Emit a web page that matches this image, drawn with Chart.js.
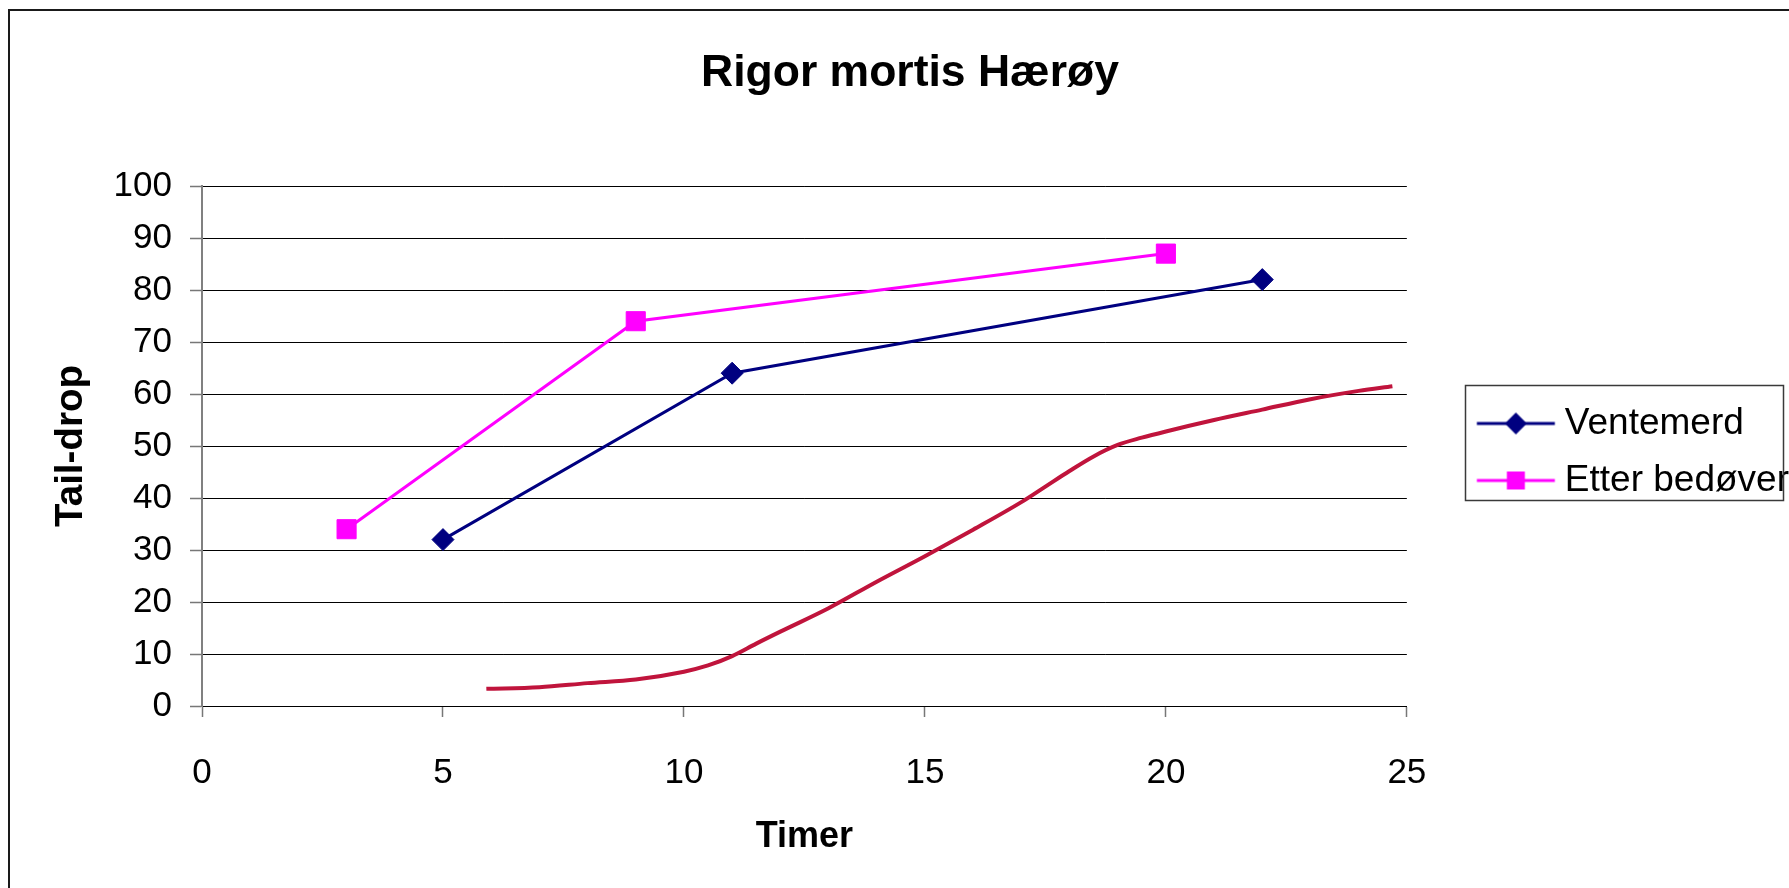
<!DOCTYPE html>
<html>
<head>
<meta charset="utf-8">
<script src="https://cdn.jsdelivr.net/npm/chart.js@4.4.1/dist/chart.umd.min.js"></script>
<style>
  html, body { margin: 0; padding: 0; background: #fff; overflow: hidden; width: 1789px; height: 888px; }
  #frame { position: absolute; left: 8px; top: 9px; width: 2000px; height: 1000px;
           border-left: 2px solid #1a1a1a; border-top: 2px solid #1a1a1a; }
  #c { position: absolute; left: 0; top: 0; }
</style>
</head>
<body>
<div id="frame"></div>
<canvas id="c" width="1820" height="888"></canvas>
<script>
// Measured series (hours after slaughter, tail-drop %)
const ventemerdHours = [5, 11, 22];
const ventemerdValues = [32, 64, 82];
const etterHours = [3, 9, 20];
const etterValues = [34, 74, 87];

// Smooth reference curve
const curveHours  = [5.9, 7, 8, 9, 10, 10.5, 11, 11.5, 12, 13, 14, 15, 16, 17, 17.5, 18, 18.5, 19, 19.5, 20, 21, 22, 23, 24, 24.7];
const curveValues = [3.3, 3.6, 4.4, 5.1, 6.6, 7.8, 9.6, 12.0, 14.3, 18.8, 23.9, 28.8, 33.9, 39.2, 42.2, 45.2, 48.0, 50.2, 51.6, 52.8, 55.0, 57.0, 59.0, 60.6, 61.5];

const xTickValues = [0, 5, 10, 15, 20, 25];
const yTickValues = [0, 10, 20, 30, 40, 50, 60, 70, 80, 90, 100];

const seriesLabels = ['Ventemerd', 'Etter bedøver'];
const NAVY = '#000080';
const MAGENTA = '#FF00FF';
const CRIMSON = '#C0143C';
const FONT = "'Liberation Sans', Arial, sans-serif";

const toPoints = (xs, ys) => xs.map((x, i) => ({ x: x, y: ys[i] }));

// Legend swatch: short line with the series marker in the middle
const SWATCH_W = 150, SWATCH_H = 30, MARK_SHIFT = 29.25;
function legendSwatch(color, shape) {
  const c = document.createElement('canvas');
  c.width = SWATCH_W; c.height = SWATCH_H;
  const g = c.getContext('2d');
  const cx = SWATCH_W / 2 + MARK_SHIFT, cy = SWATCH_H / 2;
  g.strokeStyle = color; g.lineWidth = 3;
  g.beginPath(); g.moveTo(cx - 39, cy); g.lineTo(cx + 39, cy); g.stroke();
  g.fillStyle = color;
  g.beginPath();
  if (shape === 'diamond') {
    const r = 11;
    g.moveTo(cx - r, cy); g.lineTo(cx, cy - r); g.lineTo(cx + r, cy); g.lineTo(cx, cy + r);
    g.closePath();
  } else {
    const h = 9;
    g.rect(cx - h, cy - h, 2 * h, 2 * h);
  }
  g.fill();
  return c;
}
const swatches = [legendSwatch(NAVY, 'diamond'), legendSwatch(MAGENTA, 'square')];

// Frame around the legend entries
const legendFrame = {
  id: 'legendFrame',
  afterDraw(chart) {
    const lg = chart.legend;
    if (!lg || !lg.legendHitBoxes || lg.legendHitBoxes.length < 2) return;
    const a = lg.legendHitBoxes[0], b = lg.legendHitBoxes[lg.legendHitBoxes.length - 1];
    const left = a.left + 38;
    const right = Math.max(a.left + a.width, b.left + b.width) - 6;
    const top = a.top - 20;
    const bottom = b.top + b.height + 1;
    const ctx = chart.ctx;
    ctx.save();
    ctx.strokeStyle = '#3a3a3a';
    ctx.lineWidth = 1.5;
    ctx.strokeRect(Math.round(left) + 0.5, Math.round(top) + 0.5, Math.round(right - left), Math.round(bottom - top));
    ctx.restore();
  }
};

new Chart(document.getElementById('c'), {
  type: 'line',
  data: {
    datasets: [
      {
        label: seriesLabels[0],
        data: toPoints(ventemerdHours, ventemerdValues),
        borderColor: NAVY, backgroundColor: NAVY,
        borderWidth: 3,
        pointStyle: 'rectRot', pointRadius: 11, pointBorderWidth: 1,
        pointBackgroundColor: NAVY, pointBorderColor: NAVY,
        tension: 0
      },
      {
        label: seriesLabels[1],
        data: toPoints(etterHours, etterValues),
        borderColor: MAGENTA, backgroundColor: MAGENTA,
        borderWidth: 3,
        pointStyle: 'rect', pointRadius: 13.5, pointBorderWidth: 1,
        pointBackgroundColor: MAGENTA, pointBorderColor: MAGENTA,
        tension: 0
      },
      {
        label: 'Kurve',
        data: toPoints(curveHours, curveValues),
        borderColor: CRIMSON,
        borderWidth: 4,
        pointRadius: 0,
        cubicInterpolationMode: 'monotone'
      }
    ]
  },
  options: {
    responsive: false,
    animation: false,
    events: [],
    devicePixelRatio: 1,
    layout: { padding: { left: 21, right: 21, top: 0, bottom: 0 } },
    plugins: {
      tooltip: { enabled: false },
      title: {
        display: true,
        text: 'Rigor mortis Hærøy',
        color: '#000',
        font: { family: FONT, size: 44.5, weight: 'bold', lineHeight: 1.2 },
        padding: { top: 47.4, bottom: 85.2 }
      },
      legend: {
        display: true,
        position: 'right',
        align: 'center',
        title: { display: true, text: ' ', font: { size: 10, lineHeight: 1 }, padding: 3 },
        labels: {
          usePointStyle: true,
          pointStyleWidth: 119.5,
          padding: 20,
          color: '#000',
          font: { family: FONT, size: 37 },
          filter: (item) => item.datasetIndex < 2,
          generateLabels(chart) {
            const items = Chart.defaults.plugins.legend.labels.generateLabels(chart);
            items.forEach((it) => { if (it.datasetIndex < 2) it.pointStyle = swatches[it.datasetIndex]; });
            return items;
          }
        }
      }
    },
    scales: {
      x: {
        type: 'linear',
        min: 0, max: 25,
        afterBuildTicks: (s) => { s.ticks = xTickValues.map((v) => ({ value: v })); },
        afterFit: (s) => { s.height = 182; },
        ticks: { color: '#000', padding: 35, maxRotation: 0, font: { family: FONT, size: 35 } },
        grid: { drawOnChartArea: false, drawTicks: true, tickLength: 11, tickColor: '#777', tickWidth: 1.5 },
        border: { display: true, color: '#000', width: 1 },
        title: {
          display: true, text: 'Timer', color: '#000',
          font: { family: FONT, size: 36, weight: 'bold', lineHeight: 1.2 },
          padding: { top: 0, bottom: 29.4 }
        }
      },
      y: {
        type: 'linear',
        min: 0, max: 100,
        afterBuildTicks: (s) => { s.ticks = yTickValues.map((v) => ({ value: v })); },
        afterFit: (s) => { s.width = 181; },
        ticks: { color: '#000', padding: 18, font: { family: FONT, size: 35 } },
        grid: { color: '#000', lineWidth: 1, drawTicks: true, tickLength: 12, tickColor: '#777', tickWidth: 1.5 },
        border: { display: true, color: '#808080', width: 2 },
        title: {
          display: true, text: 'Tail-drop', color: '#000',
          font: { family: FONT, size: 38.5, weight: 'bold', lineHeight: 1.2 },
          padding: { top: 27.4, bottom: 0 }
        }
      }
    }
  },
  plugins: [legendFrame]
});
</script>
</body>
</html>
